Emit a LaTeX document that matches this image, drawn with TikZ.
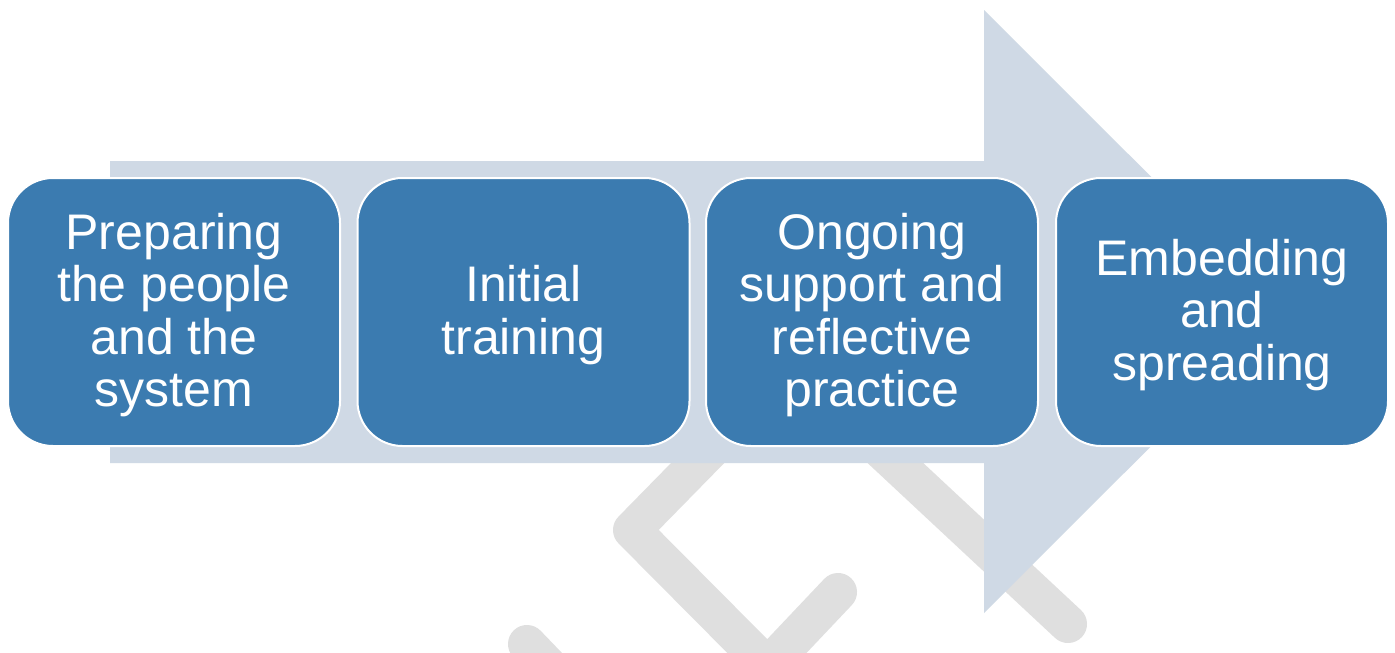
\documentclass[tikz,border=0pt]{standalone}
\usepackage{fontspec}
\setmainfont{Liberation Sans}
\definecolor{boxblue}{HTML}{3B7BB0}
\definecolor{arrowfill}{HTML}{CFD9E5}
\definecolor{wmgray}{HTML}{DFDFDF}
\tikzset{
  stepbox/.style={draw=white, line width=2pt, fill=boxblue, rounded corners=45pt,
    minimum width=332pt, minimum height=268pt, inner sep=0pt},
  steptext/.style={text=white, align=center,
    font=\fontsize{50}{52.5}\selectfont, inner sep=0pt, yshift=-3pt},
  wmstroke/.style={draw=wmgray, line width=38pt, line cap=round, line join=round}
}
\begin{document}
\begin{tikzpicture}[x=1pt,y=-1pt]
\useasboundingbox (0,0) rectangle (1395,653);
\fill[white] (0,0) rectangle (1395,653);
% watermark strokes
\draw[wmstroke] (730,430) -- (632,530) -- (776,675);
\draw[wmstroke] (838,592) -- (750,685);
\draw[wmstroke] (860,430) -- (1068,624);
\draw[wmstroke] (527,644) -- (600,720);
% background arrow
\fill[arrowfill] (110,161) -- (984,161) -- (984,10) -- (1286,311.5) -- (984,613) -- (984,463) -- (110,463) -- cycle;
% boxes
\node[stepbox] (box1) at (174,312) {};
\node[stepbox] (box2) at (523.5,312) {};
\node[stepbox] (box3) at (872,312) {};
\node[stepbox] (box4) at (1222,312) {};
\node[steptext] (t1) at (box1.center) {Preparing\\the people\\and the\\system};
\node[steptext] (t2) at (box2.center) {Initial\\training};
\node[steptext] (t3) at (box3.center) {Ongoing\\support and\\reflective\\practice};
\node[steptext] (t4) at (box4.center) {Embedding\\and\\spreading};
\end{tikzpicture}
\end{document}
